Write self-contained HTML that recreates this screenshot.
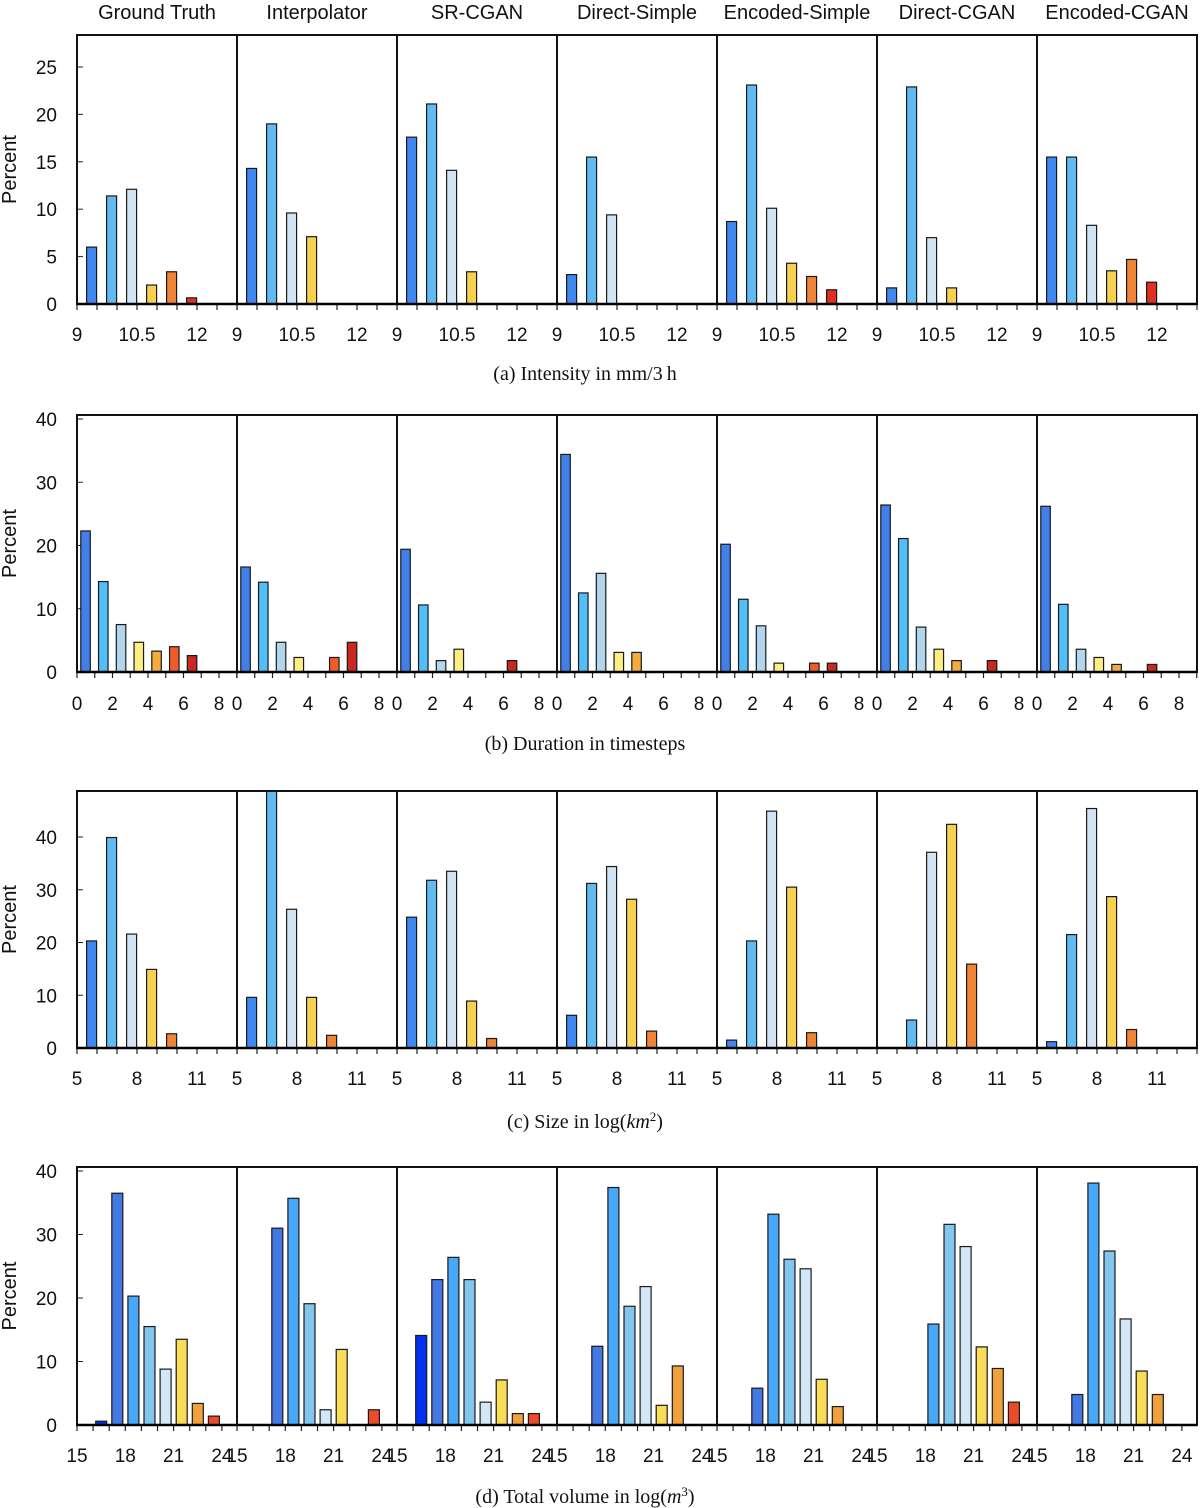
<!DOCTYPE html>
<html><head><meta charset="utf-8"><style>
html,body{margin:0;padding:0;background:#fff}
svg{display:block}
text{font-family:"Liberation Sans",sans-serif;fill:#111}
.cap{font-family:"Liberation Serif",serif;font-size:20px}
</style></head><body>
<svg id="fig" width="1201" height="1508" viewBox="0 0 1201 1508" xmlns="http://www.w3.org/2000/svg"></svg>
<script>
const models = ["Ground Truth","Interpolator","SR-CGAN","Direct-Simple","Encoded-Simple","Direct-CGAN","Encoded-CGAN"];
// (a) intensity, bins of 0.5 starting at 9
const intensityValues = [
 [6.0,11.4,12.1,2.0,3.4,0.65],
 [14.3,19.0,9.6,7.1,0,0],
 [17.6,21.1,14.1,3.4,0,0],
 [3.1,15.5,9.4,0,0,0],
 [8.7,23.1,10.1,4.3,2.9,1.5],
 [1.7,22.9,7.0,1.7,0,0],
 [15.5,15.5,8.3,3.5,4.7,2.3]
];
// (b) duration, bins of 1 starting at 0
const durationValues = [
 [22.3,14.3,7.5,4.7,3.3,4.0,2.6],
 [16.6,14.2,4.7,2.3,0,2.3,4.7],
 [19.4,10.6,1.8,3.6,0,0,1.8],
 [34.4,12.5,15.6,3.1,3.1,0,0],
 [20.2,11.5,7.3,1.4,0,1.4,1.4],
 [26.4,21.1,7.1,3.6,1.8,0,1.8],
 [26.2,10.7,3.6,2.3,1.2,0,1.2]
];
// (c) size, bins of 1 starting at 5
const sizeValues = [
 [20.3,39.9,21.6,14.9,2.7],
 [9.6,50,26.3,9.6,2.4],
 [24.8,31.8,33.5,8.9,1.8],
 [6.2,31.2,34.4,28.2,3.2],
 [1.5,20.3,44.9,30.5,2.9],
 [0,5.3,37.1,42.4,15.9],
 [1.2,21.5,45.4,28.7,3.5]
];
// (d) volume, bins of 1 starting at 15
const volumeValues = [
 [0,0.6,36.5,20.3,15.5,8.8,13.5,3.4,1.4],
 [0,0,31.0,35.7,19.1,2.4,11.9,0,2.4],
 [0,14.1,22.9,26.4,22.9,3.6,7.1,1.8,1.8],
 [0,0,12.4,37.4,18.7,21.8,3.1,9.3,0],
 [0,0,5.8,33.2,26.1,24.6,7.2,2.9,0],
 [0,0,0,15.9,31.6,28.1,12.3,8.9,3.6],
 [0,0,4.8,38.1,27.4,16.7,8.5,4.8,0]
];
const intensityTicks = ["9","10.5","12"];
const intensityTickVals = [9,10.5,12];
const durationTicks = ["0","2","4","6","8"];
const durationTickVals = [0,2,4,6,8];
const sizeTicks = ["5","8","11"];
const sizeTickVals = [5,8,11];
const volumeTicks = ["15","18","21","24"];
const volumeTickVals = [15,18,21,24];
const yTicksA = [0,5,10,15,20,25];
const yTicksB = [0,10,20,30,40];
const yTicksC = [0,10,20,30,40];
const yTicksD = [0,10,20,30,40];

const NS="http://www.w3.org/2000/svg";
const svg=document.getElementById('fig');
function mk(tag,attrs,parent){const e=document.createElementNS(NS,tag);for(const k in attrs)e.setAttribute(k,attrs[k]);(parent||svg).appendChild(e);return e;}

const palA=["#4088f0","#60bcf0","#d0e4f4","#f8d050","#f08434","#e03020"];
const palB=["#4080e8","#50bef8","#b0d6ee","#fcee80","#f4aa3c","#f05c28","#c82820"];
const palD=["#ffffff","#0030f0","#4478e2","#48a8f8","#82c6ee","#d2e8f6","#f8dc58","#f0a03c","#ea4c2a"];

const rows=[
 {key:'intensity',data:intensityValues,top:35,base:304,ymax:28.4,yppu:9.48,yt:yTicksA,xmin:9,binW:0.5,xppu:40,off:9.6,bw:10,nb:8,ticks:intensityTicks,tickVals:intensityTickVals,pal:palA,lab:334,cap:"(a) Intensity in mm/3\u2009h",capY:380},
 {key:'duration',data:durationValues,top:415,base:672,ymax:40.6,yppu:6.325,yt:yTicksB,xmin:0,binW:1,xppu:17.75,off:3.8,bw:9.5,nb:9,ticks:durationTicks,tickVals:durationTickVals,pal:palB,lab:703,cap:"(b) Duration in timesteps",capY:750},
 {key:'size',data:sizeValues,top:791,base:1048,ymax:48.7,yppu:5.275,yt:yTicksC,xmin:5,binW:1,xppu:20,off:9.6,bw:10,nb:8,ticks:sizeTicks,tickVals:sizeTickVals,pal:palA,lab:1078,cap:null,capY:1128},
 {key:'volume',data:volumeValues,top:1167,base:1425,ymax:40.6,yppu:6.35,yt:yTicksD,xmin:15,binW:1,xppu:16.1,off:2.6,bw:11,nb:10,ticks:volumeTicks,tickVals:volumeTickVals,pal:palD,lab:1455,cap:null,capY:1503}
];

// column titles
models.forEach((m,p)=>{
 const t=mk('text',{x:77+p*160+80,y:19,'text-anchor':'middle','font-size':20});
 t.textContent=m;
 
 
});

rows.forEach((r,ri)=>{
 const g=mk('g',{});
 
 
 const ys=v=>r.base-Math.min(v,r.ymax)*r.yppu;
 // y axis
 r.yt.forEach(v=>{
  mk('line',{x1:77,x2:83,y1:ys(v),y2:ys(v),stroke:'#222','stroke-width':1},g);
  const t=mk('text',{x:57,y:ys(v)+7,'text-anchor':'end','font-size':19},g);
  t.textContent=v;
  
  
 });
 const yl=mk('text',{x:0,y:0,'font-size':20,'text-anchor':'middle',transform:`translate(16,${(r.top+r.base)/2}) rotate(-90)`},g);
 yl.textContent='Percent';
 
 
 for(let p=0;p<7;p++){
  const L=77+p*160;
  const xs=v=>L+(v-r.xmin)*r.xppu;
  const pg=mk('g',{},g);
  
  
  // minor ticks at bin edges
  for(let i=0;i<=r.nb;i++){
   const x=xs(r.xmin+i*r.binW); if(x>L+160.5)break;
   mk('line',{x1:x,x2:x,y1:r.base,y2:r.base+6,stroke:'#222','stroke-width':1.2},pg);
  }
  // bars
  r.data[p].forEach((v,i)=>{
   if(!v)return;
   const x=xs(r.xmin+i*r.binW)+r.off;
   const y=ys(v);
   const b=mk('rect',{x:x,y:y,width:r.bw,height:r.base-y,fill:r.pal[i%r.pal.length],stroke:'#1a1a1a','stroke-width':1.2},pg);
   
   
  });
  // frame
  mk('rect',{x:L,y:r.top,width:160,height:r.base-r.top,fill:'none',stroke:'#111','stroke-width':2},pg);
  mk('line',{x1:L,x2:L+160,y1:r.base,y2:r.base,stroke:'#000','stroke-width':2.5},pg);
  r.ticks.forEach((lab,k)=>{
   const t=mk('text',{x:xs(r.tickVals[k]),y:r.lab+7,'text-anchor':'middle','font-size':19},pg);
   t.textContent=lab;
   
   
  });
 }
 const c=mk('text',{x:585,y:r.capY,'text-anchor':'middle',class:'cap'},g);
 
 
 if(r.cap){c.textContent=r.cap;}
 else if(r.key==='size'){c.innerHTML='(c) Size in log(<tspan font-style="italic">km</tspan><tspan baseline-shift="super" font-size="13">2</tspan>)';}
 else {c.innerHTML='(d) Total volume in log(<tspan font-style="italic">m</tspan><tspan baseline-shift="super" font-size="13">3</tspan>)';}
});
</script>
</body></html>
